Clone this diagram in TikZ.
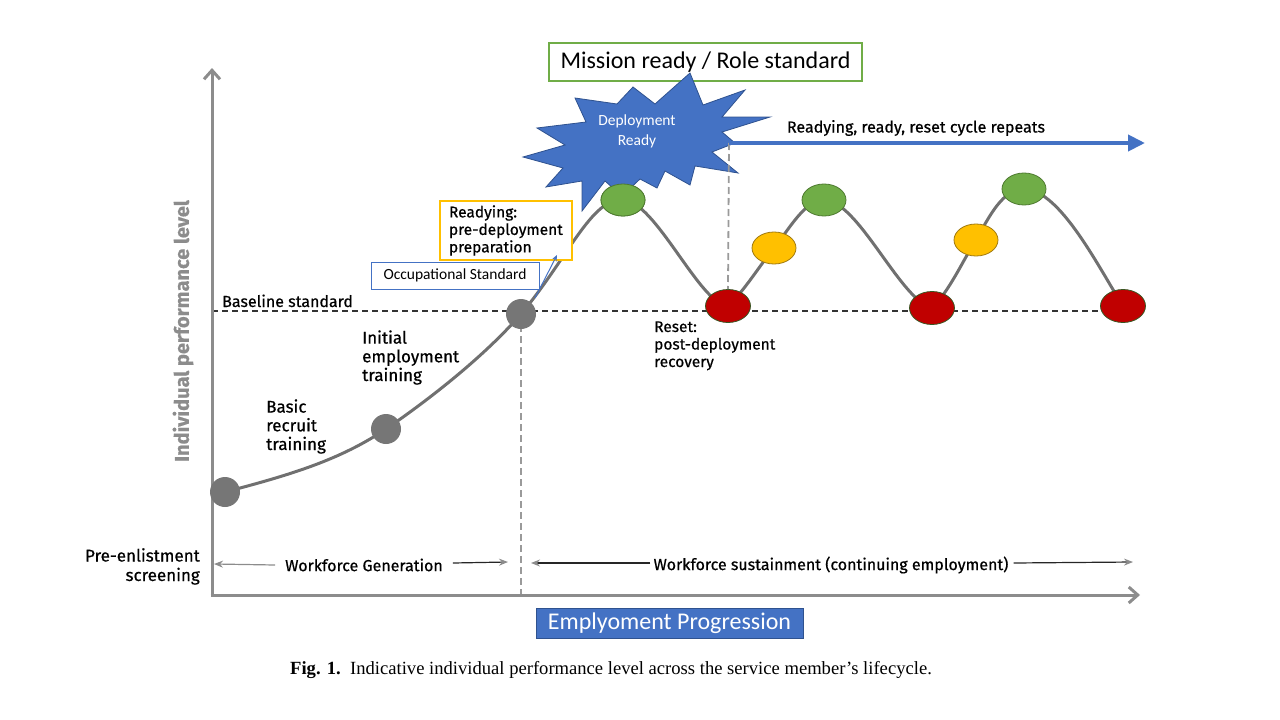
\documentclass[tikz,border=0pt]{standalone}
\usepackage{fontspec}
\setmainfont{Fira Sans}[FakeBold=0.6]
\newfontfamily\calibrifont{Carlito}
\newfontfamily\capfont{Liberation Serif}
\usetikzlibrary{arrows.meta,shapes.geometric,backgrounds}
\definecolor{axisgray}{HTML}{8C8C8C}
\definecolor{curvegray}{HTML}{707070}
\definecolor{nodegray}{HTML}{767676}
\definecolor{msgreen}{HTML}{70AD47}
\definecolor{msgreenD}{HTML}{4E7A30}
\definecolor{msyellow}{HTML}{FFC000}
\definecolor{msyellowD}{HTML}{A07A10}
\definecolor{msred}{HTML}{C00000}
\definecolor{msredD}{HTML}{385723}
\definecolor{msblue}{HTML}{4472C4}
\definecolor{msblueD}{HTML}{2F528F}
\definecolor{dashgray}{HTML}{9A9A9A}
\begin{document}
\begin{tikzpicture}[x=1pt,y=-1pt,
  lbl/.style={font=\fontsize{16}{19}\selectfont, inner sep=0pt, align=left},
  biglbl/.style={font=\fontsize{17}{18.7}\selectfont, inner sep=0pt, align=left},
  graydot/.style={circle, fill=nodegray, minimum size=30pt, inner sep=0pt},
  peaknode/.style={ellipse, draw=msgreenD, fill=msgreen, minimum width=44pt, minimum height=32pt, inner sep=0pt, line width=0.8pt},
  risenode/.style={ellipse, draw=msyellowD, fill=msyellow, minimum width=44pt, minimum height=32pt, inner sep=0pt, line width=0.8pt},
  resetnode/.style={ellipse, draw=msredD, fill=msred, minimum width=45pt, minimum height=33pt, inner sep=0pt, line width=0.8pt},
  axisline/.style={draw=axisgray, line width=3pt, -{Straight Barb[length=9pt,width=16pt]}},
  curveline/.style={draw=curvegray, line width=3pt},
  vdash/.style={draw=dashgray, line width=1.8pt, dash pattern=on 7pt off 4pt},
  spanarrow/.style={draw=black!85, line width=1.2pt, -{Stealth[length=9pt,width=7pt,color=axisgray,fill=axisgray]}}
]
\useasboundingbox (0,0) rectangle (1280,720);

% axes
\coordinate (origin) at (212,595);
\coordinate (ytop) at (212,68);
\coordinate (xend) at (1140,595);
\draw[axisline] (origin) -- (ytop);
\draw[axisline] ([xshift=-1.5pt]origin) -- (xend);
\node[rotate=90, text=axisgray, font=\fontsize{20}{23}\selectfont\bfseries, inner sep=0pt] (ylab) at (183,331) {Individual performance level};

% curve nodes
\node[graydot] (g1) at (225,492) {};
\node[graydot] (g2) at (386,429) {};
\node[graydot] (g3) at (521,314) {};
\node[peaknode] (p1) at (623,200) {};
\node[resetnode] (r1) at (728,306) {};
\node[risenode] (y1) at (774,248) {};
\node[peaknode] (p2) at (824,200) {};
\node[resetnode] (r2) at (932,308) {};
\node[risenode] (y2) at (976,240) {};
\node[peaknode] (p3) at (1024,189) {};
\node[resetnode] (r3) at (1123,306) {};

\begin{scope}[on background layer]
  % baseline
  \coordinate (bl0) at (212,311);
  \coordinate (bl1) at (1123,311);
  \draw[black!80, line width=1.2pt, dash pattern=on 6pt off 4pt] (bl0) -- (bl1);
  % vertical dashed
  \coordinate (gx) at (521,595);
  \draw[vdash] (g3.center) -- (gx);
  % curve
  \draw[curveline] (g1.center) .. controls (290,475) and (340,460) .. (g2.center)
     .. controls (440,392) and (490,350) .. (g3.center)
     .. controls (568,258) and (592,197) .. (p1.center)
     .. controls (655,200) and (700,305) .. (r1.center)
     .. controls (745,290) and (760,265) .. (y1.center)
     .. controls (790,228) and (805,200) .. (p2.center)
     .. controls (858,200) and (900,300) .. (r2.center)
     .. controls (950,290) and (962,262) .. (y2.center)
     .. controls (990,215) and (1003,189) .. (p3.center)
     .. controls (1060,189) and (1100,270) .. (r3.center);
\end{scope}

% mission box (drawn before the starburst, whose tip overlaps it)
\node[draw=msgreen, line width=1.5pt, fill=white, font=\calibrifont\fontsize{24}{28}\selectfont,
      minimum width=313pt, minimum height=38pt, inner sep=0pt] (mission) at (705.5,62) {Mission ready / Role standard};

% starburst
\draw[fill=msblue, draw=msblueD, line width=0.8pt]
  (690,73) -- (703,105) -- (745,90) -- (722,117) -- (770,117) -- (722,132)
  -- (735,143) -- (712,152) -- (738,173) -- (695,166) -- (690,185) -- (665,171)
  -- (657,188) -- (640,179) -- (622,196) -- (605,181) -- (582,211) -- (582,181)
  -- (546,187) -- (563,168) -- (523,157) -- (565,145) -- (537,128) -- (586,122)
  -- (575,98) -- (617,104) -- (633,87) -- (655,104) -- cycle;
\node[text=white, font=\calibrifont\fontsize{15.5}{20}\selectfont, align=center, inner sep=0pt] (dr) at (637,131) {Deployment\\Ready};
\node[peaknode] at (p1) {};

% vertical dashed at first reset + blue arrow
\coordinate (cyc0) at (729,143);
\coordinate (cyc1) at (1145,143);
\draw[vdash] (cyc0) -- (r1.north);
\draw[msblue, line width=4pt, -{Triangle[length=17pt,width=16pt]}] (cyc0) -- (cyc1);
\node[lbl] (cycle) at (916,128) {Readying, ready, reset cycle repeats};

% labels (base anchor of a multi-line node = last line's baseline)
\node[lbl, anchor=base west] (base) at (222,307) {Baseline standard};
\node[biglbl, anchor=base west] (iet) at (362,381) {Initial\\employment\\training};
\node[biglbl, anchor=base west] (brt) at (266,450) {Basic\\recruit\\training};
\node[lbl, font=\fontsize{15.5}{17.5}\selectfont, anchor=base west] (reset) at (654,367) {Reset:\\post-deployment\\recovery};
\node[lbl, font=\fontsize{17}{19.5}\selectfont, align=right, anchor=base east] (pre) at (200,581) {Pre-enlistment\\screening};

% readying box
\node[draw=msyellow, line width=1.5pt, fill=white, font=\fontsize{15.5}{17.5}\selectfont, align=left,
      text width=114pt, inner xsep=9pt, inner ysep=4pt, minimum height=59pt] (ready) at (506,230.5) {Readying:\\pre-deployment\\preparation};
% occupational box
\node[draw=msblue, line width=1pt, fill=white, font=\calibrifont\fontsize{15.5}{18}\selectfont,
      minimum width=168pt, minimum height=27pt, inner sep=0pt] (occ) at (455,275.5) {Occupational Standard};
\coordinate (occA) at (535,298);
\coordinate (occB) at (557,255);
\draw[msblue, line width=1pt, -{Stealth[length=6pt,width=5pt]}] (occA) -- (occB);

% spans
\node[lbl] (wg) at (364,565) {Workforce Generation};
\coordinate (wgL) at (214,564);
\coordinate (wgR) at (508,562);
\draw[spanarrow, draw=axisgray] (wg.west) ++(-10,0) -- (wgL);
\draw[spanarrow] (wg.east) ++(10,-2) -- (wgR);
\node[lbl] (ws) at (831,565) {Workforce sustainment (continuing employment)};
\coordinate (wsL) at (531,563);
\coordinate (wsR) at (1133,562);
\draw[spanarrow] (ws.west) ++(-3,-2) -- (wsL);
\draw[spanarrow] (ws.east) ++(5,-2) -- (wsR);

% employment progression box
\node[draw=msblueD, fill=msblue, line width=0.8pt, text=white, font=\calibrifont\fontsize{24}{28}\selectfont,
      minimum width=267pt, minimum height=30pt, inner sep=0pt] (ep) at (669.5,623) {Emplyoment Progression};

% caption
\node[font=\capfont\fontsize{18.6}{21}\selectfont, inner sep=0pt, anchor=base west] (cap) at (290,674)
  {\textbf{Fig. 1.}\ \ Indicative individual performance level across the service member’s lifecycle.};
\end{tikzpicture}
\end{document}
